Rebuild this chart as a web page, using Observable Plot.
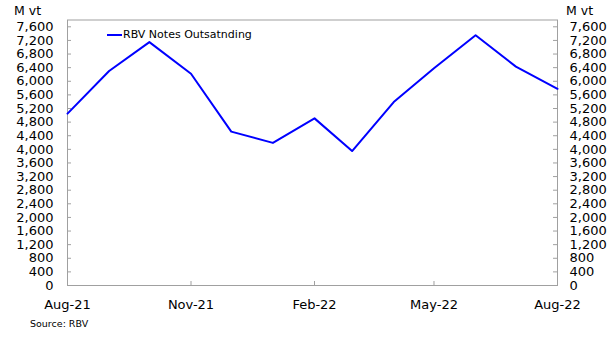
<!DOCTYPE html>
<html><head><meta charset="utf-8">
<script src="https://cdn.jsdelivr.net/npm/d3@7"></script>
<script src="https://cdn.jsdelivr.net/npm/@observablehq/plot@0.6"></script>
<style>
body{margin:0;background:#fff;}
#wrap{position:relative;width:614px;height:340px;font-family:"DejaVu Sans",sans-serif;color:#000;}
.abs{position:absolute;white-space:nowrap;}
</style></head><body>
<div id="wrap"></div>
<script>
const months = ["2021-08","2021-09","2021-10","2021-11","2021-12","2022-01","2022-02","2022-03","2022-04","2022-05","2022-06","2022-07","2022-08"];
const notesOutstanding = [5050,6300,7150,6220,4520,4190,4910,3950,5390,6380,7350,6430,5780];
const seriesName = "RBV Notes Outsatnding";
const unitLabel = "M vt";
const sourceText = "Source: RBV";
const yTicks = d3.range(0, 7601, 400);
const xTickMonths = ["2021-08","2021-11","2022-02","2022-05","2022-08"];
const xInnerTickMonths = ["2021-11","2022-02","2022-05"];

const parse = d3.utcParse("%Y-%m");
const data = months.map((m,i)=>({date: parse(m), value: notesOutstanding[i]}));
const xTicks = xTickMonths.map(parse);
const xInner = xInnerTickMonths.map(parse);

const W=614,H=340,mL=67,mR=57,mT=19.5,mB=55;
const pw=W-mL-mR, ph=H-mT-mB;
const font = '"DejaVu Sans", sans-serif';

const chart = Plot.plot({
  width:W, height:H, marginLeft:mL, marginRight:mR, marginTop:mT, marginBottom:mB,
  style:{fontFamily:font, fontSize:"13px", color:"#000", background:"#fff"},
  x:{type:"utc", domain:[parse(months[0]), parse(months[months.length-1])]},
  y:{domain:[0,7800]},
  marks:[
    Plot.frame({stroke:"#a0a0a0"}),
    Plot.ruleY(yTicks.slice(1), {stroke:"#a0a0a0", insetRight: pw-4}),
    Plot.ruleY(yTicks.slice(1), {stroke:"#a0a0a0", insetLeft: pw-4}),
    Plot.ruleX(xInner, {stroke:"#a0a0a0", insetTop: ph-4}),
    Plot.axisY({anchor:"left", ticks:yTicks, tickSize:0, tickPadding:14, tickFormat:d3.format(","), label:null, fontSize:13}),
    Plot.axisY({anchor:"right", ticks:yTicks, tickSize:0, tickPadding:12, tickFormat:d3.format(","), label:null, fontSize:13}),
    Plot.axisX({ticks:xTicks, tickSize:0, tickPadding:14, tickFormat:d3.utcFormat("%b-%y"), label:null, fontSize:13}),
    Plot.line(data, {x:"date", y:"value", stroke:"#0000ff", strokeWidth:2})
  ]
});
const wrap = document.getElementById("wrap");
wrap.appendChild(chart);
function addText(t, x, y, size){
  const d=document.createElement("div"); d.className="abs"; d.textContent=t;
  d.style.left=x+"px"; d.style.top=y+"px"; d.style.fontSize=size+"px"; wrap.appendChild(d); return d;
}
addText(unitLabel, 14, 3, 12.5);
addText(unitLabel, 566, 3, 12.5);
addText(sourceText, 30, 318, 9.5);
const leg=document.createElement("div"); leg.className="abs";
leg.style.left="107px"; leg.style.top="28px"; leg.style.fontSize="11px"; leg.style.display="flex"; leg.style.alignItems="center";
const sw=document.createElement("span"); sw.style.display="inline-block"; sw.style.width="15px"; sw.style.height="2px"; sw.style.background="#0000ff";
const lt=document.createElement("span"); lt.textContent=seriesName; lt.style.marginLeft="1px";
leg.appendChild(sw); leg.appendChild(lt); wrap.appendChild(leg);
</script></body></html>
